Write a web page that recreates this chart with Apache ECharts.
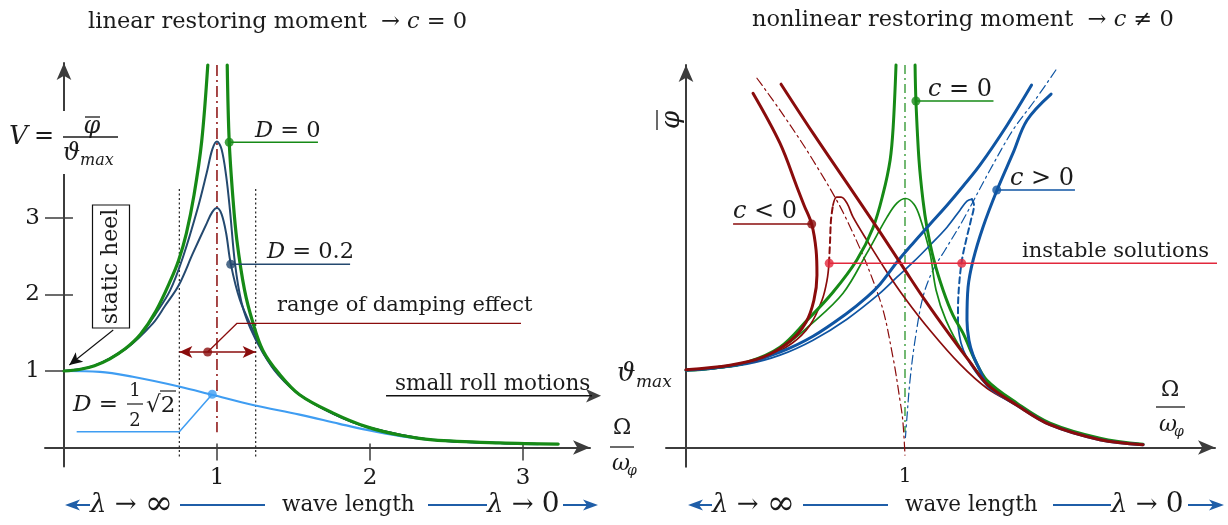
<!DOCTYPE html>
<html>
<head>
<meta charset="utf-8">
<script src="https://cdn.jsdelivr.net/npm/echarts@6/dist/echarts.min.js"></script>
<style>
  html, body { margin: 0; padding: 0; background: #ffffff; }
  #chart { width: 1228px; height: 525px; }
</style>
</head>
<body>
<div id="chart"></div>
<script>
// ---------- left panel: magnification V = phi / theta_max over Omega / omega_phi ----------
const ratioTicks = [1, 2, 3];
const vTicks = [1, 2, 3];

// D = 0, branch below and above resonance
const vD0Below = [[0,1],[0.1,1.02],[0.2,1.07],[0.3,1.16],[0.4,1.29],[0.5,1.48],[0.6,1.78],[0.7,2.2],[0.75,2.45],[0.8,2.8],[0.85,3.3],[0.9,4.0],[0.94,5.0]];
const vD0Above = [[1.067,5.0],[1.08,4.0],[1.105,3.24],[1.13,2.71],[1.18,2.06],[1.235,1.63],[1.3,1.27],[1.4,0.98],[1.54,0.69],[1.76,0.45],[1.98,0.27],[2.2,0.16],[2.41,0.10],[2.85,0.06],[3.23,0.045]];
// light damping
const vDLight = [[0,1],[0.2,1.07],[0.4,1.29],[0.5,1.47],[0.6,1.75],[0.693,2.05],[0.778,2.49],[0.876,3.14],[0.933,3.59],[0.97,3.9],[1.0,4.0],[1.03,3.9],[1.06,3.55],[1.085,3.1],[1.118,2.4],[1.16,1.9],[1.22,1.55],[1.3,1.24],[1.4,0.96],[1.54,0.69],[1.76,0.44],[1.98,0.27],[2.41,0.10],[2.85,0.06],[3.2,0.045]];
// D = 0.2
const vD02 = [[0,1],[0.2,1.07],[0.41,1.30],[0.58,1.62],[0.66,1.85],[0.75,2.12],[0.843,2.54],[0.933,2.93],[0.97,3.08],[1.0,3.13],[1.03,3.05],[1.06,2.8],[1.09,2.4],[1.15,1.93],[1.25,1.47],[1.31,1.21],[1.4,0.95],[1.54,0.69],[1.76,0.44],[1.98,0.27],[2.41,0.10],[2.85,0.06],[3.2,0.045]];
// D = sqrt(2)/2
const vDHalfSqrt2 = [[0,1],[0.235,0.99],[0.45,0.925],[0.758,0.795],[0.974,0.686],[1.235,0.556],[1.54,0.43],[1.8,0.31],[1.98,0.23],[2.2,0.15],[2.41,0.10],[2.8,0.06],[3.1,0.045]];

// annotation anchors (left)
const resonanceLine = [[1, 5.0], [1, 0.2]];
const dampingBoundLow = [[0.754, 3.38], [0.754, -0.125]];
const dampingBoundHigh = [[1.253, 3.38], [1.253, -0.125]];
const dampingRange = [[0.754, 1.248], [1.253, 1.248]];
const dampingRangeDot = [[0.939, 1.248]];
const dampingRangeLeader = [[0.939, 1.248], [1.131, 1.624], [2.987, 1.624]];
const d0Leader = [[1.08, 3.99], [1.66, 3.99]];
const d02Leader = [[1.09, 2.395], [1.87, 2.395]];
const dSqrtLeader = [[0.969, 0.696], [0.754, 0.206], [0.083, 0.206]];
const staticHeelArrow = [[0.322, 1.536], [0.035, 1.078]];
const smallRollArrow = [[2.105, 0.677], [3.556, 0.677]];

// ---------- right panel: amplitude over Omega / omega_phi, c = 0, c < 0, c > 0 ----------
const ratioTicksRight = [1];

const ampC0Below = [[0,1.01],[0.123,1.037],[0.279,1.115],[0.429,1.311],[0.553,1.664],[0.671,2.03],[0.781,2.455],[0.854,2.873],[0.9,3.318],[0.932,3.756],[0.946,4.187],[0.959,5.0]];
const ampC0Above = [[1.046,5.0],[1.05,4.526],[1.064,3.755],[1.082,3.233],[1.1,2.88],[1.132,2.448],[1.174,2.056],[1.219,1.729],[1.265,1.494],[1.32,1.141],[1.374,0.88],[1.511,0.58],[1.662,0.319],[1.89,0.122],[2.087,0.043]];
const ampC0Damped = [[0,1.01],[0.123,1.03],[0.279,1.102],[0.429,1.285],[0.566,1.599],[0.717,2.017],[0.826,2.54],[0.918,3.011],[0.963,3.194],[1.003,3.255],[1.041,3.18],[1.068,3.011],[1.114,2.54],[1.142,2.056],[1.187,1.664],[1.26,1.272],[1.374,0.854],[1.511,0.566],[1.662,0.311],[1.89,0.115],[2.073,0.043]];
const backboneC0 = [[1, 5.0], [1, 0.2]];

const ampCnegBelow = [[0,1.017],[0.201,1.076],[0.352,1.18],[0.475,1.39],[0.548,1.638],[0.584,1.925],[0.598,2.252],[0.594,2.579],[0.574,2.919],[0.539,3.167],[0.507,3.403],[0.429,3.978],[0.306,4.631]];
const ampCnegDampedLow = [[0,1.01],[0.201,1.063],[0.352,1.161],[0.484,1.363],[0.566,1.599],[0.621,1.925],[0.644,2.187],[0.653,2.409]];
const ampCnegUnstable = [[0.653,2.409],[0.658,2.71],[0.662,2.971],[0.671,3.167]];
const ampCnegDampedHigh = [[0.671,3.167],[0.688,3.272],[0.708,3.272],[0.735,3.194],[0.763,3.011],[0.826,2.71],[0.918,2.292],[1.0,1.952],[1.114,1.533],[1.251,1.089],[1.374,0.775],[1.511,0.553],[1.662,0.298],[1.89,0.102],[2.087,0.037]];
const ampCnegAbove = [[0.434,4.749],[0.58,4.109],[0.735,3.455],[0.886,2.815],[1.0,2.318],[1.091,1.926],[1.205,1.468],[1.297,1.115],[1.379,0.815],[1.511,0.553],[1.662,0.298],[1.89,0.102],[2.087,0.037]];
const backboneCneg = [[0.324,4.827],[0.429,4.409],[0.58,3.755],[0.735,2.971],[0.886,1.926],[0.945,1.181],[0.977,0.618],[0.99,0.35],[1.0,-0.1]];

const ampCposBelow = [[0,1.01],[0.123,1.037],[0.279,1.108],[0.429,1.246],[0.58,1.455],[0.735,1.755],[0.826,1.965],[0.886,2.135],[0.963,2.422],[1.037,2.671],[1.114,2.919],[1.192,3.167],[1.265,3.415],[1.342,3.69],[1.466,4.213],[1.578,4.738]];
const ampCposDampedHigh = [[0,1.01],[0.123,1.03],[0.279,1.089],[0.429,1.207],[0.58,1.403],[0.735,1.677],[0.886,2.017],[0.963,2.226],[1.037,2.422],[1.114,2.644],[1.192,2.88],[1.251,3.102],[1.283,3.22],[1.306,3.246]];
const ampCposUnstable = [[1.306,3.246],[1.315,3.167],[1.301,2.971],[1.279,2.71],[1.26,2.449],[1.247,2.122],[1.242,1.795],[1.242,1.599]];
const ampCposDampedLow = [[1.242,1.599],[1.256,1.364],[1.283,1.168],[1.324,0.985],[1.379,0.802],[1.511,0.553],[1.662,0.298],[1.89,0.102],[2.087,0.037]];
const ampCposAbove = [[1.667,4.62],[1.557,4.278],[1.493,3.847],[1.42,3.363],[1.356,2.88],[1.311,2.449],[1.288,2.096],[1.283,1.664],[1.292,1.403],[1.311,1.207],[1.342,1.011],[1.379,0.802],[1.511,0.553],[1.662,0.298],[1.89,0.102],[2.087,0.037]];
const backboneCpos = [[1.689,4.935],[1.594,4.542],[1.493,4.15],[1.388,3.627],[1.265,2.974],[1.183,2.582],[1.128,2.32],[1.082,1.967],[1.046,1.405],[1.023,0.882],[1.009,0.399],[1.002,0.13]];

// annotation anchors (right)
const c0Leader = [[1.05, 4.529], [1.404, 4.529]];
const cNegLeader = [[0.574, 2.922], [0.215, 2.922]];
const cPosLeader = [[1.419, 3.366], [1.776, 3.366]];
const instableLine = [[0.654, 2.408], [2.447, 2.408]];
const instablePoints = [[0.654, 2.408], [1.259, 2.408]];

// ---------- styling ----------
const SERIF = "'DejaVu Serif', serif";
const INK = '#1b1b1b';
const AXIS = '#3c3c3c';
const GREEN = '#168a16';
const NAVY = '#24496f';
const SKY = '#3f9df2';
const MAROON = '#8a0c0c';
const BLUE = '#0f55a3';
const CRIMSON = '#e2283c';
const ARROWBLUE = '#1f5ea8';

function curve(side, data, color, width, dash, z) {
  return {
    type: 'line', xAxisIndex: side, yAxisIndex: side, data: data,
    smooth: 0.35, symbol: 'none', showSymbol: false, silent: true, clip: false,
    lineStyle: { color: color, width: width, type: dash || 'solid', cap: 'round', join: 'round' },
    z: z || 2
  };
}
function straight(side, data, color, width, dash, z) {
  const s = curve(side, data, color, width, dash, z);
  s.smooth = false;
  s.lineStyle.cap = 'butt';
  return s;
}
function dots(side, data, color, size) {
  return {
    type: 'scatter', xAxisIndex: side, yAxisIndex: side, data: data, symbolSize: size || 8,
    itemStyle: { color: color }, silent: true, clip: false, z: 6
  };
}
function arrow(side, pts, color, width, both) {
  return {
    type: 'line', xAxisIndex: side, yAxisIndex: side, data: [], clip: false, silent: true,
    markLine: {
      silent: true, animation: false, symbol: [both ? 'arrow' : 'none', 'arrow'], symbolSize: [9, 13],
      label: { show: false }, lineStyle: { color: color, width: width, type: 'solid' },
      emphasis: { disabled: true },
      data: [[{ coord: pts[0] }, { coord: pts[1] }]]
    },
    z: 5
  };
}
function rightHead(side, point, color) {
  return {
    type: 'scatter', xAxisIndex: side, yAxisIndex: side, data: [point], symbol: 'arrow',
    symbolSize: [10, 15], symbolRotate: -90, symbolOffset: [-7, 0],
    itemStyle: { color: color }, silent: true, clip: false, z: 6
  };
}

function rich(size) {
  return { i: { fontStyle: 'italic', fontSize: size, fontFamily: SERIF, fill: INK },
           b: { fontSize: Math.round(size * 1.3), fontFamily: SERIF, fill: INK },
           n: { fontSize: Math.round(size * 1.08), fontFamily: SERIF, fill: INK } };
}
function text(x, y, s, size, extra) {
  return {
    type: 'text', x: x, y: y, z: 50, silent: true,
    style: Object.assign({
      text: s, fontSize: size, fontFamily: SERIF, fill: INK, align: 'left', verticalAlign: 'middle',
      rich: rich(size)
    }, extra || {})
  };
}
function seg(x1, y1, x2, y2, color, width) {
  return { type: 'line', z: 50, silent: true, shape: { x1: x1, y1: y1, x2: x2, y2: y2 },
           style: { stroke: color || INK, lineWidth: width || 1.2 } };
}
function head(tipX, y, dir, color) {
  // filled arrow head pointing left (dir = -1) or right (dir = 1)
  const L = 15, W = 5.5, N = 11;
  return { type: 'polygon', z: 50, silent: true,
    shape: { points: [[tipX, y], [tipX - dir * L, y - W], [tipX - dir * N, y], [tipX - dir * L, y + W]] },
    style: { fill: color } };
}

// bottom wave length scale
function waveLengthRow(arrowL, infX, lineA0, lineA1, waveX, lineB0, lineB1, zeroX, lineC0, arrowR) {
  const y = 505;
  return [
    head(arrowL, y, -1, ARROWBLUE), seg(arrowL + 8, y, infX, y, ARROWBLUE, 2),
    text(infX, y, '{i|λ} → {b|∞}', 26),
    seg(lineA0, y, lineA1, y, ARROWBLUE, 2),
    text(waveX, y, 'wave length', 21.5),
    seg(lineB0, y, lineB1, y, ARROWBLUE, 2),
    text(zeroX, y, '{i|λ} → {n|0}', 26),
    seg(lineC0, y, arrowR - 8, y, ARROWBLUE, 2), head(arrowR, y, 1, ARROWBLUE)
  ];
}

const axisLineStyle = { color: AXIS, width: 2 };
const serifLabel = { fontFamily: SERIF, fontSize: 23, color: INK };

const option = {
  backgroundColor: '#ffffff',
  animation: false,
  grid: [
    { left: 45, top: 63, width: 545, height: 403.5, containLabel: false, outerBoundsMode: 'none' },
    { left: 666, top: 65, width: 549, height: 401.7, containLabel: false, outerBoundsMode: 'none' }
  ],
  xAxis: [
    { gridIndex: 0, type: 'value', min: -0.124, max: 3.438, position: 'bottom',
      axisLine: { onZero: true, lineStyle: axisLineStyle, symbol: ['none', 'arrow'], symbolSize: [11, 17] },
      axisTick: { show: true, customValues: ratioTicks, length: 13, lineStyle: { color: AXIS, width: 1.5 } },
      axisLabel: { show: true, customValues: ratioTicks, margin: 0, ...serifLabel },
      splitLine: { show: false } },
    { gridIndex: 1, type: 'value', min: -0.0913, max: 2.4155, position: 'bottom',
      axisLine: { onZero: true, lineStyle: axisLineStyle, symbol: ['none', 'arrow'], symbolSize: [11, 17] },
      axisTick: { show: false },
      axisLabel: { show: true, customValues: ratioTicksRight, margin: 0, fontFamily: SERIF, fontSize: 20, color: INK },
      splitLine: { show: false } },
    { gridIndex: 0, type: 'value', min: -0.124, max: 3.438, position: 'bottom',
      axisLine: { show: false, onZero: true },
      axisTick: { show: true, inside: true, customValues: ratioTicks, length: 4, lineStyle: { color: AXIS, width: 1.5 } },
      axisLabel: { show: false }, splitLine: { show: false } }
  ],
  yAxis: [
    { gridIndex: 0, type: 'value', min: -0.248, max: 5.026, position: 'left',
      axisLine: { onZero: true, lineStyle: axisLineStyle, symbol: ['none', 'arrow'], symbolSize: [11, 17] },
      axisTick: { show: true, customValues: vTicks, length: 19, lineStyle: { color: AXIS, width: 1.5 } },
      axisLabel: { show: true, customValues: vTicks, margin: 5, ...serifLabel },
      splitLine: { show: false } },
    { gridIndex: 1, type: 'value', min: -0.251, max: 5.0, position: 'left',
      axisLine: { onZero: true, lineStyle: axisLineStyle, symbol: ['none', 'arrow'], symbolSize: [11, 17] },
      axisTick: { show: false }, axisLabel: { show: false }, splitLine: { show: false } },
    { gridIndex: 0, type: 'value', min: -0.248, max: 5.026, position: 'left',
      axisLine: { show: false, onZero: true },
      axisTick: { show: true, inside: true, customValues: vTicks, length: 9, lineStyle: { color: AXIS, width: 1.5 } },
      axisLabel: { show: false }, splitLine: { show: false } }
  ],
  series: [
    // ----- left panel -----
    straight(0, resonanceLine, MAROON, 1.5, [11, 4, 2, 4], 1),
    straight(0, dampingBoundLow, '#222', 1.2, [2, 2.5], 1),
    straight(0, dampingBoundHigh, '#222', 1.2, [2, 2.5], 1),
    curve(0, vDHalfSqrt2, SKY, 2.2),
    curve(0, vD02, NAVY, 2),
    curve(0, vDLight, NAVY, 2),
    curve(0, vD0Below, GREEN, 3.2, null, 3),
    curve(0, vD0Above, GREEN, 3.2, null, 3),
    arrow(0, dampingRange, MAROON, 1.6, true),
    straight(0, dampingRangeLeader, MAROON, 1.3, null, 4),
    dots(0, dampingRangeDot, MAROON, 9),
    straight(0, d0Leader, GREEN, 1.5, null, 4),
    dots(0, [d0Leader[0]], GREEN, 9),
    straight(0, d02Leader, NAVY, 1.5, null, 4),
    dots(0, [d02Leader[0]], NAVY, 9),
    straight(0, dSqrtLeader, SKY, 1.5, null, 4),
    dots(0, [dSqrtLeader[0]], SKY, 9),
    arrow(0, staticHeelArrow, '#111', 1.1, false),
    straight(0, smallRollArrow, '#111', 1.3, null, 4),
    rightHead(0, smallRollArrow[1], '#111'),

    // ----- right panel -----
    straight(1, backboneC0, GREEN, 1.2, [9, 4, 2, 4], 1),
    curve(1, backboneCneg, MAROON, 1.2, [9, 4, 2, 4], 1),
    curve(1, backboneCpos, BLUE, 1.2, [9, 4, 2, 4], 1),
    curve(1, ampC0Damped, GREEN, 1.7),
    curve(1, ampCposDampedHigh, BLUE, 1.7),
    curve(1, ampCposUnstable, BLUE, 2, [6, 4]),
    curve(1, ampCposDampedLow, BLUE, 1.7),
    curve(1, ampCnegDampedLow, MAROON, 1.7),
    curve(1, ampCnegUnstable, MAROON, 2, [6, 4]),
    curve(1, ampCnegDampedHigh, MAROON, 1.7),
    curve(1, ampC0Below, GREEN, 3, null, 3),
    curve(1, ampC0Above, GREEN, 3, null, 3),
    curve(1, ampCposBelow, BLUE, 3, null, 3),
    curve(1, ampCposAbove, BLUE, 3, null, 3),
    curve(1, ampCnegBelow, MAROON, 3, null, 3),
    curve(1, ampCnegAbove, MAROON, 3, null, 3),
    straight(1, c0Leader, GREEN, 1.5, null, 4),
    dots(1, [c0Leader[0]], GREEN, 9),
    straight(1, cNegLeader, MAROON, 1.5, null, 4),
    dots(1, [cNegLeader[0]], MAROON, 9),
    straight(1, cPosLeader, BLUE, 1.5, null, 4),
    dots(1, [cPosLeader[0]], BLUE, 9),
    straight(1, instableLine, CRIMSON, 1.5, null, 4),
    dots(1, instablePoints, CRIMSON, 9)
  ],
  graphic: [
    // titles
    text(88, 22, 'linear restoring moment  → {i|c} = 0', 22.5),
    text(752, 20, 'nonlinear restoring moment  → {i|c} ≠ 0', 22.5),

    // left ordinate label  V = phi-bar / theta_max (axis interrupted behind it)
    { type: 'rect', z: 45, silent: true, shape: { x: 57, y: 111, width: 14, height: 63 }, style: { fill: '#ffffff' } },
    text(9, 137, '{i|V}', 26),
    text(34, 137, '=', 24),
    text(92, 127, '{i|φ}', 24, { align: 'center' }),
    seg(85, 117, 100, 117, INK, 1.3),
    seg(63, 137, 118, 137, INK, 1.3),
    text(63, 154, '{i|ϑ}', 24),
    text(80, 161, '{i|max}', 16),

    // left abscissa label  Omega / omega_phi
    text(622, 428, 'Ω', 22, { align: 'center' }),
    seg(610, 447, 634, 447, INK, 1.3),
    text(612, 464, '{i|ω}', 22),
    text(627, 471, '{i|φ}', 14),

    // static heel box
    { type: 'rect', z: 45, silent: true, shape: { x: 92.5, y: 205, width: 37, height: 123 },
      style: { fill: '#ffffff', stroke: '#111', lineWidth: 1.2 } },
    Object.assign(text(111, 266.5, 'static heel', 22, { align: 'center' }), { rotation: Math.PI / 2 }),

    // curve labels (left)
    text(255, 131, '{i|D} = 0', 22.5),
    text(267, 252, '{i|D} = 0.2', 22.5),
    text(277, 306, 'range of damping effect', 21),
    text(395, 384, 'small roll motions', 21.5),
    text(73, 405, '{i|D} =', 23),
    text(135, 391, '1', 18, { align: 'center' }),
    seg(127, 404, 143, 404, INK, 1.2),
    text(135, 421, '2', 18, { align: 'center' }),
    text(146, 406, '√2', 23),
    seg(160, 391, 176, 391, INK, 1.2),

    // right ordinate label (rotated phi-bar)
    { type: 'text', x: 672, y: 120, rotation: Math.PI / 2, z: 50, silent: true,
      style: { text: 'φ', fontSize: 26, fontStyle: 'italic', fontFamily: SERIF, fill: INK, align: 'center', verticalAlign: 'middle' } },
    seg(657, 110, 657, 130, INK, 1.3),

    // theta_max marker
    text(617, 374, '{i|ϑ}', 26),
    text(636, 383, '{i|max}', 17),

    // right abscissa label
    text(1170, 390, 'Ω', 22, { align: 'center' }),
    seg(1156, 407, 1185, 407, INK, 1.3),
    text(1159, 425, '{i|ω}', 22),
    text(1174, 432, '{i|φ}', 14),

    // curve labels (right)
    text(928, 90, '{i|c} = 0', 24),
    text(733, 212, '{i|c} < 0', 24),
    text(1010, 179, '{i|c} > 0', 24),
    text(1022, 252, 'instable solutions', 21),

    // wave length scales
    ...waveLengthRow(65, 90, 180, 265, 282, 428, 487, 487, 563, 598),
    ...waveLengthRow(688, 712, 803, 888, 905, 1053, 1111, 1111, 1188, 1224)
  ]
};

const chart = echarts.init(document.getElementById('chart'), null, { renderer: 'canvas' });
chart.setOption(option);
</script>
</body>
</html>
